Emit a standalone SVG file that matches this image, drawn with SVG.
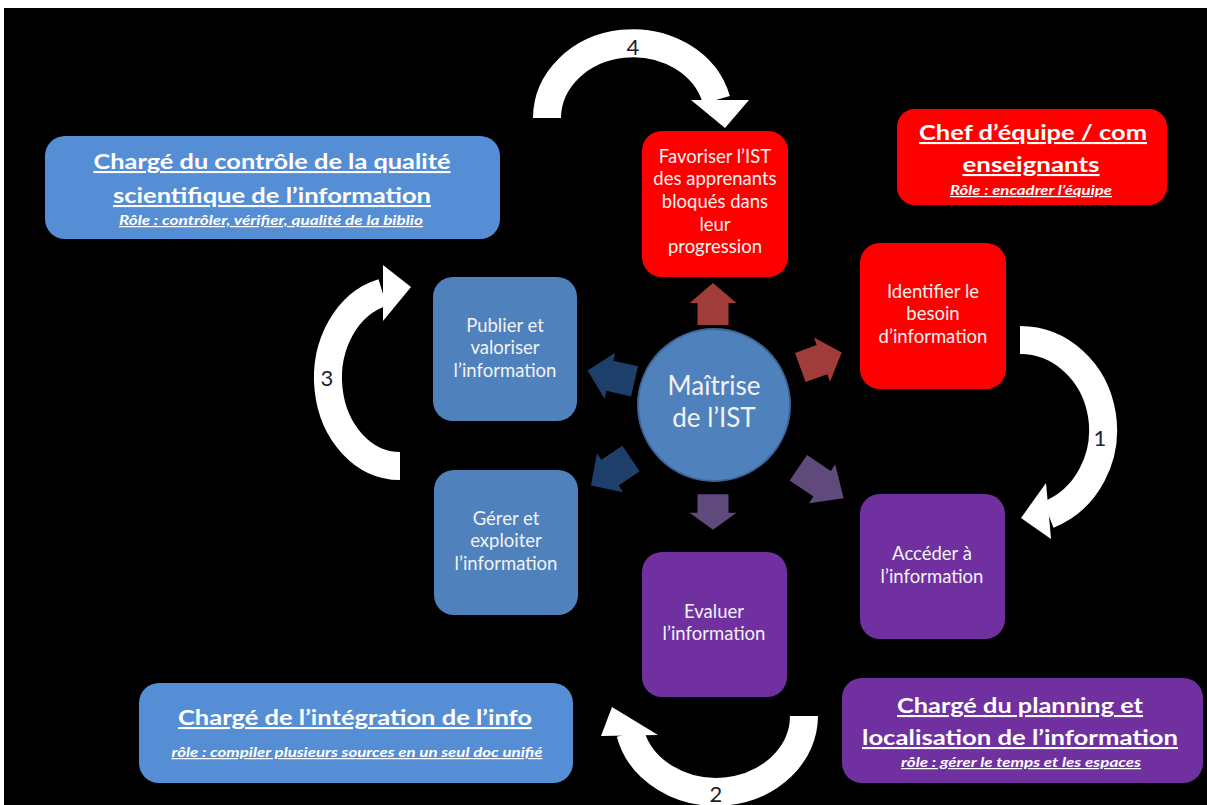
<svg xmlns="http://www.w3.org/2000/svg" xmlns:xlink="http://www.w3.org/1999/xlink" width="1207" height="805" viewBox="0 0 1207 805">
<style>
text { font-family: Lato, "Liberation Sans", "DejaVu Sans", sans-serif; fill: #ffffff; text-anchor: middle; }
.n { font-size: 18.5px; fill: #f2f2f2; }
.c { font-size: 26px; fill: #f2f2f2; }
.t { font-size: 21px; font-weight: bold; text-decoration: underline; }
.s { font-size: 12.5px; font-weight: bold; font-style: italic; text-decoration: underline; }
.num { font-size: 22px; fill: #1c1c30; }
.red { fill: #ff0000; }
.pur { fill: #7030a0; }
.blu { fill: #4f81bd; }
.rblu { fill: #558ed5; }
.arc { fill: none; stroke: #ffffff; stroke-width: 28; }
.head { fill: #ffffff; }
.ar { fill: #a03c3a; }
.ap { fill: #604a7b; }
.ab { fill: #1d3f6a; }
</style>
<defs>
<path id="sa" d="M0,-21 L23.5,-1 L15.5,-1 L15.5,21 L-15.5,21 L-15.5,-1 L-23.5,-1 Z"/>
</defs>
<rect x="0" y="0" width="1207" height="805" fill="#ffffff"/>
<rect x="4" y="8" width="1203" height="797" fill="#000000"/>

<g id="connectors">
  <use xlink:href="#sa" class="ar" transform="translate(713,304)"/>
  <use xlink:href="#sa" class="ar" transform="translate(821,360) rotate(70) scale(1,1.05)"/>
  <use xlink:href="#sa" class="ap" transform="translate(821,483) rotate(124) scale(1,1.3)"/>
  <use xlink:href="#sa" class="ap" transform="translate(713,512) rotate(180) scale(1,0.85)"/>
  <use xlink:href="#sa" class="ab" transform="translate(611,472) rotate(236) scale(1,1.15)"/>
  <use xlink:href="#sa" class="ab" transform="translate(611,376) rotate(283) scale(1,1.15)"/>

  <g id="cycle1">
    <path class="arc" d="M1020,340 A83,90 0 0 1 1048.4,514.6"/>
    <polygon class="head" points="1046,483 1051,539 1021,518"/>
    <text class="num" x="1100" y="446">1</text>
  </g>
  <g id="cycle2">
    <path class="arc" d="M804,716 A88,76 0 0 1 630.3,733.1"/>
    <polygon class="head" points="601,736 658,735 612,707"/>
    <text class="num" x="716" y="802">2</text>
  </g>
  <g id="cycle3">
    <path class="arc" d="M400,466 A72,88 0 0 1 382.6,292.6"/>
    <polygon class="head" points="383,265 383,321 411,287"/>
    <text class="num" x="327" y="386">3</text>
  </g>
  <g id="cycle4">
    <path class="arc" d="M547,118 A86,75 0 0 1 716.4,99.9"/>
    <polygon class="head" points="691,100 749,100 725,128"/>
    <text class="num" x="633" y="55">4</text>
  </g>
</g>

<g id="center">
  <circle cx="714" cy="405" r="76" fill="#4f81bd" stroke="#3a6596" stroke-width="2"/>
  <text class="c" x="714" y="395">Maîtrise</text>
  <text class="c" x="714" y="427">de l’IST</text>
</g>

<g id="favoriser">
  <rect class="red" x="642" y="131" width="146" height="146" rx="20"/>
  <text class="n" x="715" y="163">Favoriser l’IST</text>
  <text class="n" x="715" y="185">des apprenants</text>
  <text class="n" x="715" y="208">bloqués dans</text>
  <text class="n" x="715" y="231">leur</text>
  <text class="n" x="715" y="253">progression</text>
</g>

<g id="identifier">
  <rect class="red" x="860" y="243" width="146" height="146" rx="20"/>
  <text class="n" x="933" y="298">Identifier le</text>
  <text class="n" x="933" y="320">besoin</text>
  <text class="n" x="933" y="343">d’information</text>
</g>

<g id="acceder">
  <rect class="pur" x="860" y="494" width="145" height="145" rx="20"/>
  <text class="n" x="932" y="560">Accéder à</text>
  <text class="n" x="932" y="583">l’information</text>
</g>

<g id="evaluer">
  <rect class="pur" x="642" y="552" width="145" height="145" rx="20"/>
  <text class="n" x="714" y="618">Evaluer</text>
  <text class="n" x="714" y="640">l’information</text>
</g>

<g id="gerer">
  <rect class="blu" x="434" y="470" width="144" height="145" rx="20"/>
  <text class="n" x="506" y="525">Gérer et</text>
  <text class="n" x="506" y="547">exploiter</text>
  <text class="n" x="506" y="570">l’information</text>
</g>

<g id="publier">
  <rect class="blu" x="433" y="277" width="144" height="144" rx="20"/>
  <text class="n" x="505" y="332">Publier et</text>
  <text class="n" x="505" y="354">valoriser</text>
  <text class="n" x="505" y="377">l’information</text>
</g>

<g id="role-qualite">
  <rect class="rblu" x="45" y="136" width="455" height="103" rx="20"/>
  <text class="t" x="272" y="169" textLength="357" lengthAdjust="spacingAndGlyphs">Chargé du contrôle de la qualité</text>
  <text class="t" x="272" y="203" textLength="318" lengthAdjust="spacingAndGlyphs">scientifique de l’information</text>
  <text class="s" x="271" y="225" textLength="304" lengthAdjust="spacingAndGlyphs">Rôle : contrôler, vérifier, qualité de la biblio</text>
</g>

<g id="role-chef">
  <rect class="red" x="897" y="109" width="270" height="96" rx="18"/>
  <text class="t" x="1033" y="140" textLength="228" lengthAdjust="spacingAndGlyphs">Chef d’équipe / com</text>
  <text class="t" x="1031" y="172" textLength="137" lengthAdjust="spacingAndGlyphs">enseignants</text>
  <text class="s" x="1031" y="195" textLength="162" lengthAdjust="spacingAndGlyphs">Rôle : encadrer l’équipe</text>
</g>

<g id="role-integration">
  <rect class="rblu" x="139" y="683" width="434" height="100" rx="20"/>
  <text class="t" x="355" y="725" textLength="354" lengthAdjust="spacingAndGlyphs">Chargé de l’intégration de l’info</text>
  <text class="s" x="357" y="757" textLength="371" lengthAdjust="spacingAndGlyphs">rôle : compiler plusieurs sources en un seul doc unifié</text>
</g>

<g id="role-planning">
  <rect class="pur" x="842" y="678" width="361" height="105" rx="20"/>
  <text class="t" x="1020" y="713" textLength="246" lengthAdjust="spacingAndGlyphs">Chargé du planning et</text>
  <text class="t" x="1020" y="745" textLength="316" lengthAdjust="spacingAndGlyphs">localisation de l’information</text>
  <text class="s" x="1021" y="767" textLength="240" lengthAdjust="spacingAndGlyphs">rôle : gérer le temps et les espaces</text>
</g>
</svg>
